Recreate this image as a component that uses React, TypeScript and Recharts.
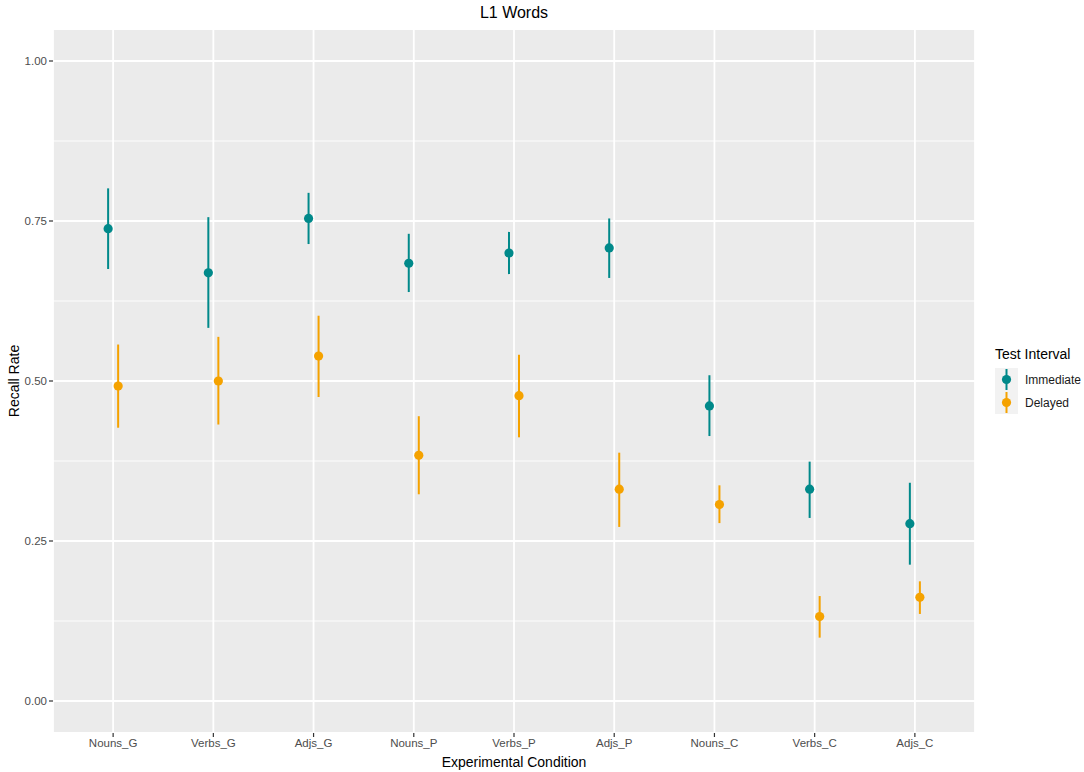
import React from "react";
import {
  ScatterChart,
  Scatter,
  XAxis,
  YAxis,
  CartesianGrid,
  ErrorBar,
  ReferenceLine,
} from "recharts";

const categories = [
  "Nouns_G",
  "Verbs_G",
  "Adjs_G",
  "Nouns_P",
  "Verbs_P",
  "Adjs_P",
  "Nouns_C",
  "Verbs_C",
  "Adjs_C",
];

const immediateMean = [0.738, 0.669, 0.754, 0.684, 0.7, 0.708, 0.461, 0.331, 0.277];
const immediateLow = [0.675, 0.583, 0.714, 0.639, 0.667, 0.661, 0.414, 0.286, 0.213];
const immediateHigh = [0.801, 0.756, 0.794, 0.73, 0.733, 0.754, 0.509, 0.374, 0.341];

const delayedMean = [0.492, 0.5, 0.539, 0.384, 0.477, 0.331, 0.307, 0.132, 0.162];
const delayedLow = [0.427, 0.432, 0.475, 0.323, 0.412, 0.272, 0.278, 0.099, 0.136];
const delayedHigh = [0.557, 0.569, 0.602, 0.445, 0.541, 0.388, 0.337, 0.164, 0.187];

const yTicks = [0, 0.25, 0.5, 0.75, 1];
const yMinor = [0.125, 0.375, 0.625, 0.875];
const xTicks = categories.map((_, i) => i + 1);

const TEAL = "#00898a";
const ORANGE = "#f5a200";
const FONT = "'Liberation Sans', Arial, Helvetica, sans-serif";

// ggplot-like position_dodge: immediate to the left, delayed to the right
const dodge = 0.05;

function buildSeries(mean: number[], low: number[], high: number[], shift: number) {
  return mean.map((m, i) => ({
    x: i + 1 + shift,
    y: m,
    err: [m - low[i], high[i] - m],
  }));
}

const series = [
  { name: "Immediate", color: TEAL, data: buildSeries(immediateMean, immediateLow, immediateHigh, -dodge) },
  { name: "Delayed", color: ORANGE, data: buildSeries(delayedMean, delayedLow, delayedHigh, dodge) },
];

const dot = (color: string) => (props: any) =>
  <circle cx={props.cx} cy={props.cy} r={4.6} fill={color} />;

function LegendBox() {
  return (
    <div style={{ position: "absolute", left: 995, top: 346, fontFamily: FONT }}>
      <div style={{ fontSize: 14, color: "#000", marginBottom: 6 }}>Test Interval</div>
      {series.map((s) => (
        <div key={s.name} style={{ display: "flex", alignItems: "center", height: 23 }}>
          <svg width={23} height={23} style={{ display: "block" }}>
            <rect x={0} y={0} width={23} height={23} fill="#f2f2f2" />
            <line x1={11.5} y1={1} x2={11.5} y2={22} stroke={s.color} strokeWidth={2} />
            <circle cx={11.5} cy={11.5} r={4.6} fill={s.color} />
          </svg>
          <span style={{ fontSize: 12, color: "#1a1a1a", marginLeft: 7 }}>{s.name}</span>
        </div>
      ))}
    </div>
  );
}

export default function App() {
  return (
    <div style={{ position: "absolute", left: 0, top: 0, width: 1084, height: 772, background: "#fff" }}>
      <div
        style={{
          position: "absolute",
          left: 53,
          top: 3,
          width: 922,
          textAlign: "center",
          fontFamily: FONT,
          fontSize: 16,
          lineHeight: "19px",
          color: "#000",
        }}
      >
        L1 Words
      </div>
      <ScatterChart
        width={1084}
        height={772}
        margin={{ top: 29, right: 109, bottom: 0, left: 0 }}
        style={{ fontFamily: FONT }}
      >
        <CartesianGrid fill="#ebebeb" stroke="#ffffff" strokeWidth={1.8} />
        {yMinor.map((v) => (
          <ReferenceLine key={v} y={v} stroke="#ffffff" strokeWidth={0.9} ifOverflow="hidden" />
        ))}
        <XAxis
          type="number"
          dataKey="x"
          domain={[0.4, 9.6]}
          allowDataOverflow
          ticks={xTicks}
          interval={0}
          tickFormatter={(v: number) => categories[Math.round(v) - 1]}
          height={39}
          axisLine={false}
          tickSize={4}
          tickMargin={2}
          tickLine={{ stroke: "#333333", strokeWidth: 1.2 }}
          tick={{ fill: "#4d4d4d", fontSize: 11.5 }}
          label={{
            value: "Experimental Condition",
            position: "insideBottom",
            offset: 5,
            style: { fill: "#000", fontSize: 14 },
          }}
        />
        <YAxis
          type="number"
          dataKey="y"
          domain={[-0.05, 1.05]}
          allowDataOverflow
          ticks={yTicks}
          tickFormatter={(v: number) => v.toFixed(2)}
          width={53}
          axisLine={false}
          tickSize={4}
          tickMargin={2}
          tickLine={{ stroke: "#333333", strokeWidth: 1.2 }}
          tick={{ fill: "#4d4d4d", fontSize: 11.5 }}
          label={{
            value: "Recall Rate",
            angle: -90,
            position: "insideLeft",
            offset: 14,
            style: { fill: "#000", fontSize: 14, textAnchor: "middle" },
          }}
        />
        {series.map((s) => (
          <Scatter
            key={s.name}
            name={s.name}
            data={s.data}
            fill={s.color}
            shape={dot(s.color)}
            isAnimationActive={false}
          >
            <ErrorBar
              dataKey="err"
              direction="y"
              width={0}
              stroke={s.color}
              strokeWidth={2}
              isAnimationActive={false}
            />
          </Scatter>
        ))}
      </ScatterChart>
      <LegendBox />
    </div>
  );
}
